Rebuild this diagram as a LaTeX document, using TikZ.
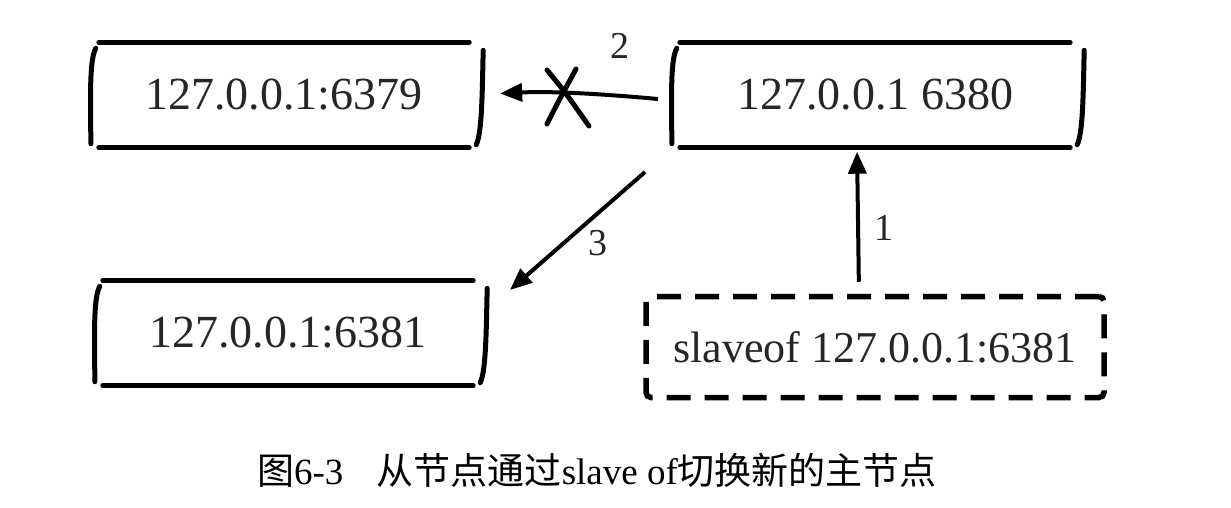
\documentclass[tikz,border=0pt]{standalone}
\usepackage{fontspec}
\newfontfamily\cjkfont{Noto Sans CJK SC}
\newfontfamily\capfont{Liberation Serif}
\usetikzlibrary{arrows.meta}

\tikzset{
  frame/.style={line width=5pt, line cap=round},
  hostbox/.style={minimum width=370pt, minimum height=105pt, inner sep=0pt,
    text=black!85, font=\capfont\fontsize{46}{50}\selectfont},
  cmdbox/.style={draw, dash pattern=on 24pt off 14pt, line width=5.5pt, rounded corners=5pt,
    minimum width=458pt, minimum height=101pt, inner sep=0pt,
    text=black!85, font=\capfont\fontsize{44}{50}\selectfont},
  arr/.style={line width=4pt, -{Triangle[length=22pt,width=18pt]}},
  steplabel/.style={inner sep=0pt, text=black!85, font=\capfont\fontsize{38}{40}\selectfont}
}

% top and bottom rules plus hand drawn side brackets
\newcommand{\sketchframe}[1]{%
  \draw[frame] (#1.north west) -- (#1.north east);
  \draw[frame] (#1.south west) -- (#1.south east);
  \draw[frame] ([shift={(-3pt,-6pt)}]#1.north west) .. controls +(-7pt,-12pt) and +(0pt,40pt) .. ([shift={(-8pt,4pt)}]#1.south west);
  \draw[frame] ([shift={(14pt,-8pt)}]#1.north east) .. controls +(-1pt,-40pt) and +(6pt,12pt) .. ([shift={(7pt,3pt)}]#1.south east);
}

\begin{document}
\begin{tikzpicture}[x=1pt, y=-1pt]
  \useasboundingbox (0,0) rectangle (1231,507);

  \node[hostbox] (m6379) at (284,95) {127.0.0.1:6379};
  \node[hostbox, minimum width=390pt] (m6380) at (875,95) {127.0.0.1 6380};
  \node[hostbox] (m6381) at (288,333) {127.0.0.1:6381};
  \node[cmdbox] (slave) at (875,347) {slaveof 127.0.0.1:6381};

  \sketchframe{m6379}
  \sketchframe{m6380}
  \sketchframe{m6381}

  % step 1
  \draw[arr, shorten <=12pt, shorten >=4pt] ([xshift=-16pt]slave.north) -- ([xshift=-18pt]m6380.south);
  \node[steplabel] (s1) at (884,228) {1};

  % step 2, cut
  \coordinate (t2) at (658,99);
  \draw[arr, shorten >=31pt] (t2) to[bend right=4] (m6379.east);
  \coordinate (cut) at (567,97);
  \draw[frame] ([shift={(-20pt,-27pt)}]cut) .. controls +(10pt,20pt) .. ([shift={(9pt,28pt)}]cut);
  \draw[frame] ([shift={(-20pt,27pt)}]cut) .. controls +(18pt,-22pt) .. ([shift={(22pt,-29pt)}]cut);
  \node[steplabel] (s2) at (620,46) {2};

  % step 3
  \coordinate (t3) at (645,172);
  \coordinate (h3) at (510,290);
  \draw[arr] (t3) -- (h3);
  \node[steplabel] (s3) at (598,243) {3};

  \node[font=\fontsize{37}{40}\selectfont] (cap) at (597,470)
    {\cjkfont 图\capfont 6-3\hspace{0.9em}\cjkfont 从节点通过\capfont slave of\cjkfont 切换新的主节点};
\end{tikzpicture}
\end{document}
